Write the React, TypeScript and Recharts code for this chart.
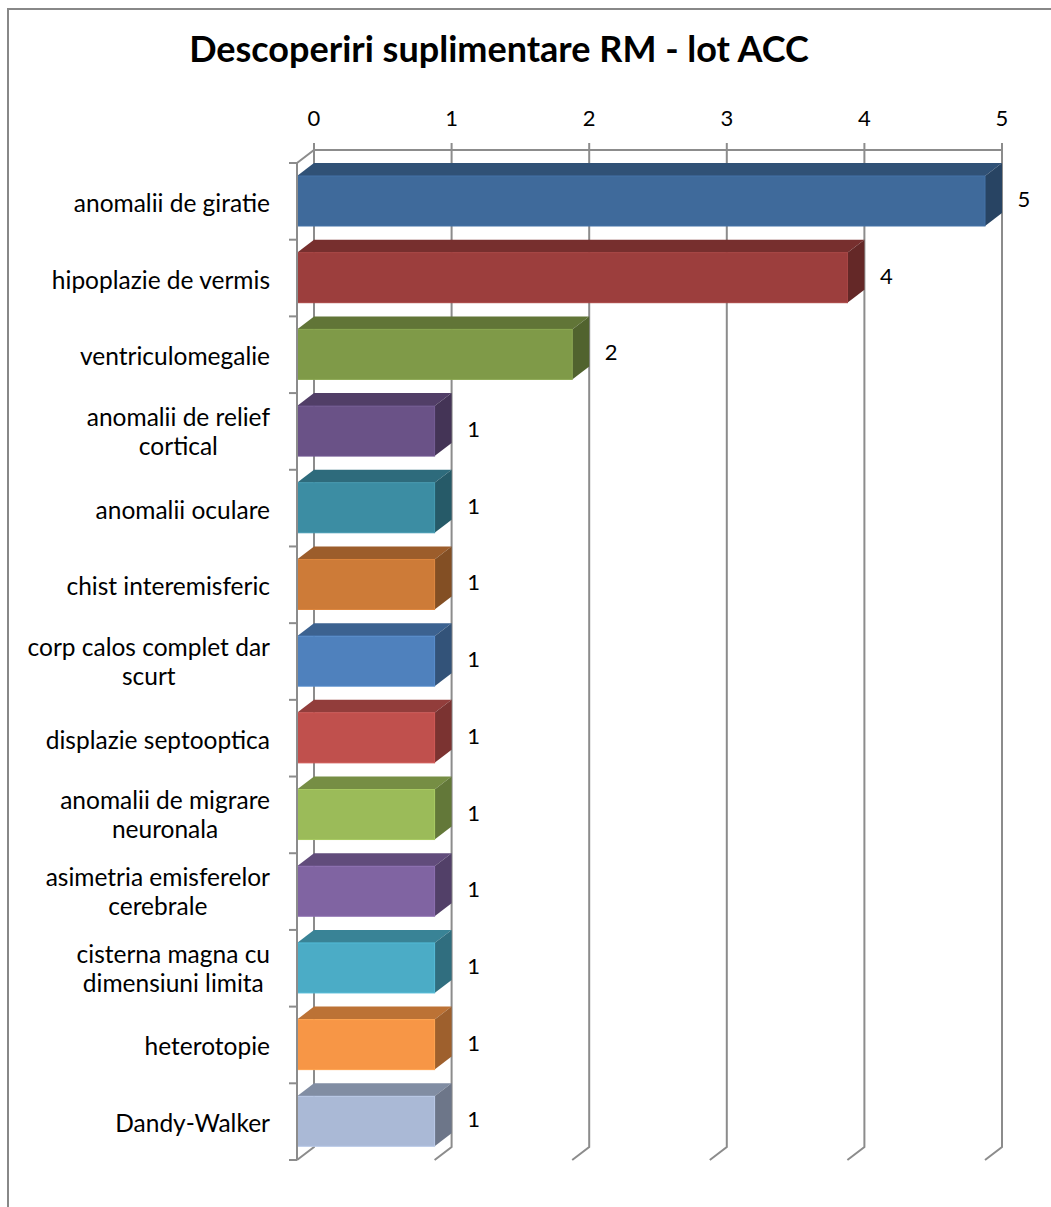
import React from 'react'
import { BarChart, Bar, XAxis, YAxis, CartesianGrid, LabelList } from 'recharts'

const categories = [
  'anomalii de giratie',
  'hipoplazie de vermis',
  'ventriculomegalie',
  'anomalii de relief\ncortical',
  'anomalii oculare',
  'chist interemisferic',
  'corp calos complet dar\nscurt',
  'displazie septooptica',
  'anomalii de migrare\nneuronala',
  'asimetria emisferelor\ncerebrale',
  'cisterna magna cu\ndimensiuni limita',
  'heterotopie',
  'Dandy-Walker',
]
const counts = [5, 4, 2, 1, 1, 1, 1, 1, 1, 1, 1, 1, 1]
const xTicks = [0, 1, 2, 3, 4, 5]
const barColors = [
  '#3f6a9b', '#9c3e3d', '#7f9a48', '#6a5287', '#3c8da3', '#cd7b38', '#4f81bd',
  '#c0504d', '#9bbb59', '#8064a2', '#4bacc6', '#f79646', '#aab9d6',
]

const data = categories.map((name, i) => ({ name, value: counts[i] }))

const W = 1051
const H = 1207
const MARGIN = { top: 93, right: 66, bottom: 47, left: 0 }
const X_AXIS_H = 70
const Y_AXIS_W = 297
const PLOT_TOP = MARGIN.top + X_AXIS_H
const PLOT_W = W - MARGIN.right - Y_AXIS_W
const PLOT_H = H - PLOT_TOP - MARGIN.bottom
const BAND = PLOT_H / categories.length
// depth offset of the 3D back plane
const DX = 17
const DY = 13
const GRID = '#8c8c8c'
const FONT = 'Lato, "Open Sans", sans-serif'
const CAT_SIZE = 24.5
const NUM_SIZE = 22
const LINE_H = 29

function shade(hex: string, k: number): string {
  const n = parseInt(hex.slice(1), 16)
  const r = Math.min(255, Math.round(((n >> 16) & 255) * k))
  const g = Math.min(255, Math.round(((n >> 8) & 255) * k))
  const b = Math.min(255, Math.round((n & 255) * k))
  return `rgb(${r},${g},${b})`
}

let ctx: CanvasRenderingContext2D | null = null
function textWidth(s: string): number {
  if (!ctx) ctx = document.createElement('canvas').getContext('2d')
  if (!ctx) return s.length * 12
  ctx.font = `${CAT_SIZE}px Lato`
  return ctx.measureText(s).width
}

function Box3D(props: any) {
  const { x, y, width, height, index } = props
  const c = barColors[index]
  const top = `${x},${y} ${x + DX},${y - DY} ${x + width + DX},${y - DY} ${x + width},${y}`
  const side = `${x + width},${y} ${x + width + DX},${y - DY} ${x + width + DX},${y + height - DY} ${x + width},${y + height}`
  return (
    <g>
      <polygon points={top} fill={shade(c, 0.76)} />
      <polygon points={side} fill={shade(c, 0.64)} />
      <rect x={x} y={y} width={width} height={height} fill={c} stroke={shade(c, 1.08)} strokeWidth={1} />
    </g>
  )
}

function GridLine(p: any) {
  const { x1, y1, y2 } = p
  const first = Math.abs(x1 - Y_AXIS_W) < 1
  return (
    <g>
      <path
        d={`M${x1 + DX},${y1 - DY} L${x1 + DX},${y2 - DY} L${x1},${y2}`}
        fill="none"
        stroke={GRID}
        strokeWidth={2}
      />
      {first && (
        <path
          d={`M${x1},${y1} L${x1 + DX},${y1 - DY} L${x1 + DX + PLOT_W},${y1 - DY}`}
          fill="none"
          stroke={GRID}
          strokeWidth={2}
        />
      )}
    </g>
  )
}

function TopTick(props: any) {
  const { x, payload } = props
  const bx = x + DX
  const by = PLOT_TOP - DY
  return (
    <g>
      <line x1={bx} y1={by - 7} x2={bx} y2={by} stroke={GRID} strokeWidth={2} />
      <text x={bx} y={by - 24} textAnchor="middle" fontFamily={FONT} fontSize={NUM_SIZE} fill="#000">
        {payload.value}
      </text>
    </g>
  )
}

function CategoryTick(props: any) {
  const { y, payload, index } = props
  const lines = String(payload.value).split('\n')
  const right = 270
  const ax = Y_AXIS_W
  const marks = [y - BAND / 2]
  if (index === categories.length - 1) marks.push(y + BAND / 2)
  let texts
  if (lines.length === 1) {
    texts = (
      <text x={right} y={y + 10.5} textAnchor="end" fontFamily={FONT} fontSize={CAT_SIZE} fill="#000">
        {lines[0]}
      </text>
    )
  } else {
    const wMax = Math.max(...lines.map(textWidth))
    const cx = right - wMax / 2
    texts = lines.map((l, i) => (
      <text
        key={i}
        x={cx}
        y={y + 9 + (i - (lines.length - 1) / 2) * LINE_H}
        textAnchor="middle"
        fontFamily={FONT}
        fontSize={CAT_SIZE}
        fill="#000"
      >
        {l}
      </text>
    ))
  }
  return (
    <g>
      {marks.map((m, i) => (
        <line key={i} x1={ax - 8} y1={m} x2={ax} y2={m} stroke={GRID} strokeWidth={2} />
      ))}
      {texts}
    </g>
  )
}

function ValueLabel(props: any) {
  const { x, y, width, height, value } = props
  return (
    <text
      x={x + width + DX + 22}
      y={y + height / 2 + 6}
      textAnchor="middle"
      fontFamily={FONT}
      fontSize={NUM_SIZE}
      fill="#000"
    >
      {value}
    </text>
  )
}

export default function App() {
  return (
    <div style={{ position: 'relative', width: W, height: H, overflow: 'hidden', background: '#fff' }}>
      <style>{'body{margin:0}'}</style>
      <div
        style={{
          position: 'absolute',
          left: 7,
          top: 8,
          width: W + 40,
          height: H + 40,
          border: '2px solid #888',
        }}
      />
      <svg width={W} height={90} style={{ position: 'absolute', left: 0, top: 0 }}>
        <text x={499} y={62} textAnchor="middle" fontFamily={FONT} fontWeight={700} fontSize={36} fill="#000">
          Descoperiri suplimentare RM - lot ACC
        </text>
      </svg>
      <div style={{ position: 'absolute', left: 0, top: 0 }}>
        <BarChart width={W} height={H} data={data} layout="vertical" margin={MARGIN} barCategoryGap={0}>
          <CartesianGrid horizontal={false} vertical={GridLine} />
          <XAxis
            type="number"
            orientation="top"
            domain={[0, 5]}
            ticks={xTicks}
            height={X_AXIS_H}
            axisLine={false}
            tickLine={false}
            tick={TopTick}
            interval={0}
          />
          <YAxis
            type="category"
            dataKey="name"
            width={Y_AXIS_W}
            axisLine={{ stroke: GRID, strokeWidth: 2 }}
            tickLine={false}
            tick={CategoryTick}
            interval={0}
          />
          <Bar dataKey="value" barSize={50} shape={Box3D} isAnimationActive={false}>
            <LabelList dataKey="value" content={ValueLabel} />
          </Bar>
        </BarChart>
      </div>
    </div>
  )
}
